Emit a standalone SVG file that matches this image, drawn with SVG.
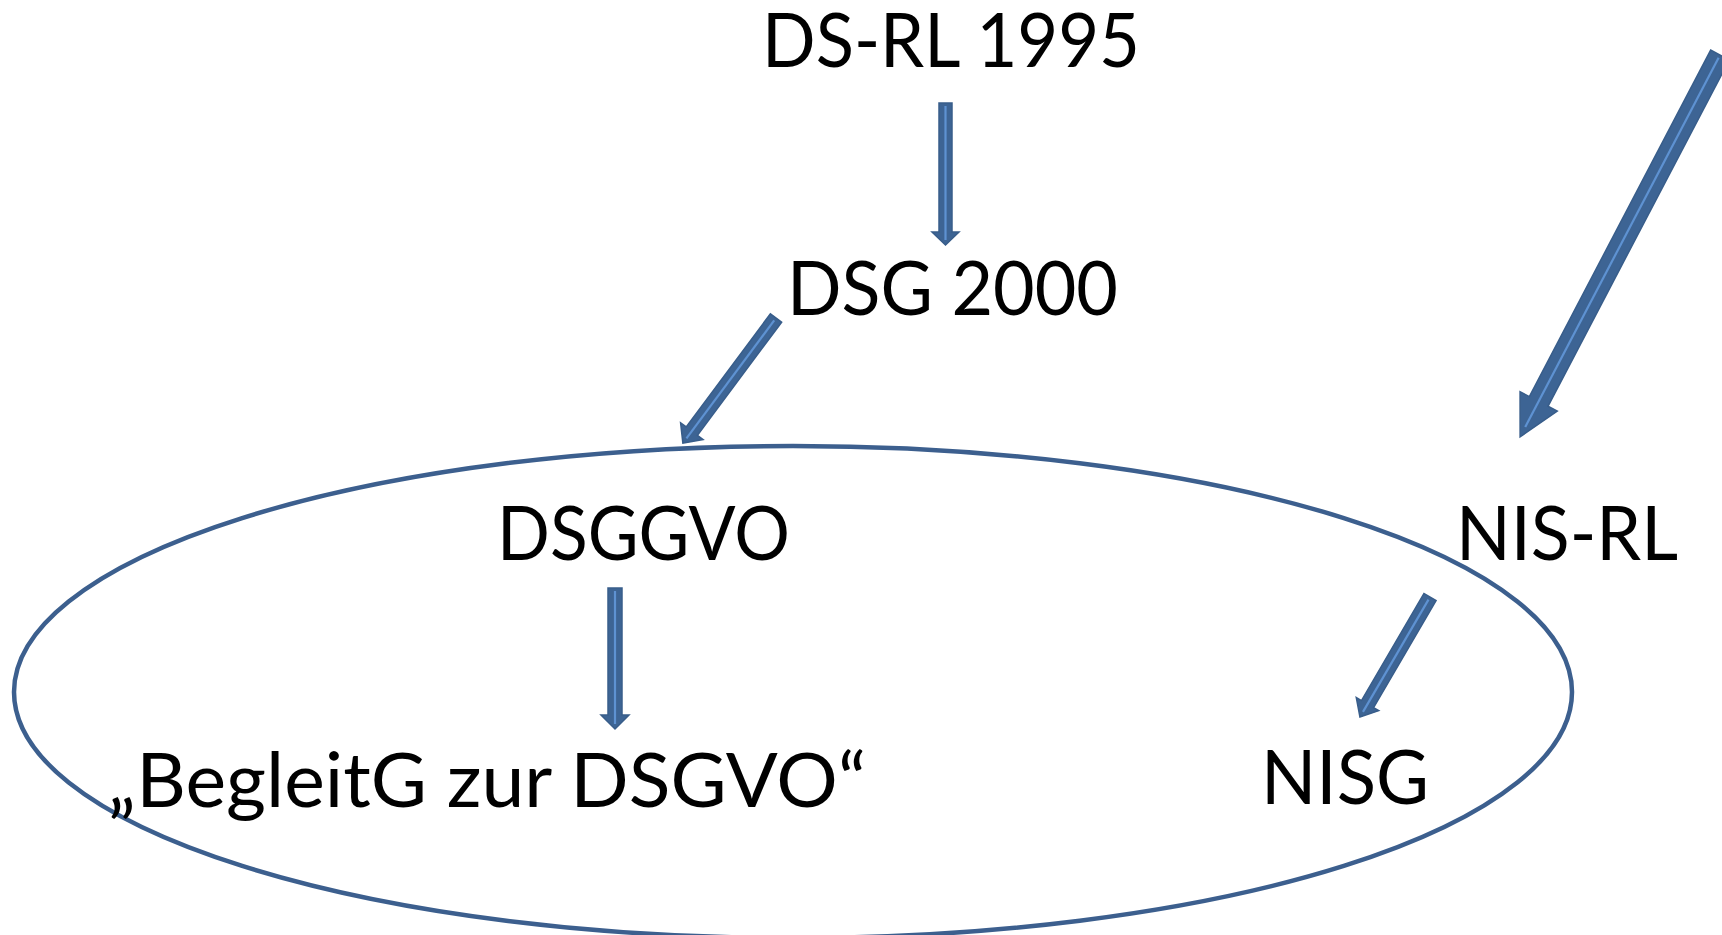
<svg xmlns="http://www.w3.org/2000/svg" width="1722" height="935" viewBox="0 0 1722 935">
<style>
  text { font-family: Lato, "Liberation Sans", sans-serif; font-size: 75px; fill: #000; }
  .ar { fill: #3d6494; stroke: #385d8a; stroke-width: 1.5; stroke-linejoin: miter; }
  .hl { stroke: #5e92d2; stroke-width: 2.2; fill: none; }
  .ell { fill: none; stroke: #3c5f8e; stroke-width: 4.5; }
</style>
<rect width="1722" height="935" fill="#fff"/>
<g id="group-ellipse">
  <ellipse class="ell" cx="793" cy="692" rx="779" ry="246"/>
</g>
<g id="connectors">
  <g transform="translate(945.5,103) rotate(90)">
    <polygon class="ar" points="0,-6.5 129,-6.5 129,-13.5 142,0 129,13.5 129,6.5 0,6.5"/>
    <line class="hl" x1="3" y1="0" x2="137" y2="0"/>
  </g>
  <g transform="translate(776,318) rotate(126.65)">
    <polygon class="ar" points="0,-7 141,-7 141,-14 156,0 141,14 141,7 0,7"/>
    <line class="hl" x1="3" y1="0" x2="150" y2="0"/>
  </g>
  <g transform="translate(1720,55) rotate(117.63)">
    <polygon class="ar" points="0,-10.5 391,-10.5 391,-21 431,0 391,21 391,10.5 0,10.5"/>
    <line class="hl" x1="3" y1="0" x2="420" y2="0"/>
  </g>
  <g transform="translate(615,588) rotate(90)">
    <polygon class="ar" points="0,-7 127,-7 127,-14 141,0 127,14 127,7 0,7"/>
    <line class="hl" x1="3" y1="0" x2="136" y2="0"/>
  </g>
  <g transform="translate(1430,597) rotate(120.26)">
    <polygon class="ar" points="0,-7 124,-7 124,-13 139,0 124,13 124,7 0,7"/>
    <line class="hl" x1="3" y1="0" x2="133" y2="0"/>
  </g>
</g>
<g id="node-dsrl"><text x="762" y="67" textLength="378" lengthAdjust="spacingAndGlyphs">DS-RL 1995</text></g>
<g id="node-dsg"><text x="787" y="315" textLength="331" lengthAdjust="spacingAndGlyphs">DSG 2000</text></g>
<g id="node-dsggvo"><text x="497" y="560" textLength="293" lengthAdjust="spacingAndGlyphs">DSGGVO</text></g>
<g id="node-nisrl"><text x="1456" y="560" textLength="222" lengthAdjust="spacingAndGlyphs">NIS-RL</text></g>
<g id="node-begleitg"><text x="108" y="807" textLength="758" lengthAdjust="spacingAndGlyphs">„BegleitG zur DSGVO“</text></g>
<g id="node-nisg"><text x="1261" y="804" textLength="168" lengthAdjust="spacingAndGlyphs">NISG</text></g>
</svg>
